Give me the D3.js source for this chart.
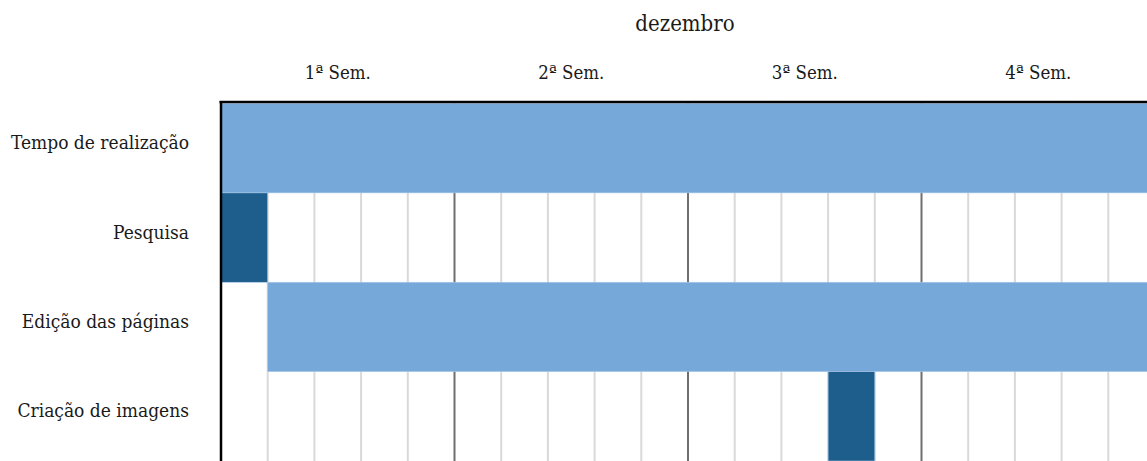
<!DOCTYPE html>
<html>
<head>
<meta charset="utf-8">
<script src="https://cdn.jsdelivr.net/npm/d3@7"></script>
<style>
  body { margin: 0; background: #fff; }
  text { font-family: "DejaVu Serif Condensed", "DejaVu Serif", serif; font-stretch: condensed; fill: #1a1a1a; }
</style>
</head>
<body>
<div id="gantt"></div>
<script>
// chart data
const month = "dezembro";
const weeks = ["1ª Sem.", "2ª Sem.", "3ª Sem.", "4ª Sem."];
const days = d3.range(1, 21).map(String);          // 5 working days per week
const tasks = ["Tempo de realização", "Pesquisa", "Edição das páginas", "Criação de imagens"];
const taskStart = [1, 1, 2, 14];                    // first day (1-based)
const taskEnd = [20, 1, 20, 14];                    // last day (inclusive)
const taskType = ["longo", "curto", "longo", "curto"];

const width = 1147, height = 461;
const gLeft = 221, gRight = 1155, gTop = 103.5, gBottom = 461;

const color = d3.scaleOrdinal()
    .domain(["longo", "curto"])
    .range(["#76a9d9", "#1e5e8c"]);

const x = d3.scaleBand().domain(days).range([gLeft, gRight]).padding(0);
const xWeek = d3.scaleBand().domain(weeks).range([gLeft, gRight]).padding(0);
const y = d3.scaleBand().domain(tasks).range([gTop, gBottom]).padding(0);

const svg = d3.select("#gantt")
    .append("svg")
    .attr("width", width)
    .attr("height", height);

// headers
svg.append("text")
    .attr("x", (gLeft + gRight) / 2 - 3)
    .attr("y", 31)
    .attr("text-anchor", "middle")
    .attr("font-size", "22px")
    .text(month);

svg.append("g")
    .selectAll("text")
    .data(weeks)
    .enter().append("text")
    .attr("x", d => xWeek(d) + xWeek.bandwidth() / 2)
    .attr("y", 79)
    .attr("text-anchor", "middle")
    .attr("font-size", "18.5px")
    .text(d => d);

// row labels
svg.append("g")
    .selectAll("text")
    .data(tasks)
    .enter().append("text")
    .attr("x", 189)
    .attr("y", d => y(d) + y.bandwidth() / 2 + 1)
    .attr("text-anchor", "end")
    .attr("font-size", "19px")
    .text(d => d);

// day grid
svg.append("g")
    .selectAll("line")
    .data(days.slice(1))
    .enter().append("line")
    .attr("x1", d => x(d))
    .attr("x2", d => x(d))
    .attr("y1", gTop)
    .attr("y2", height)
    .attr("stroke", (d, i) => (i + 1) % 5 === 0 ? "#6f6f6f" : "#d9d9d9")
    .attr("stroke-width", 2);

// bars
svg.append("g")
    .selectAll("rect")
    .data(tasks)
    .enter().append("rect")
    .attr("x", (d, i) => x(String(taskStart[i])))
    .attr("y", d => y(d))
    .attr("width", (d, i) => x(String(taskEnd[i])) + x.bandwidth() - x(String(taskStart[i])))
    .attr("height", y.bandwidth())
    .attr("fill", (d, i) => color(taskType[i]))
    .attr("stroke", "#a8c9ea")
    .attr("stroke-width", 0.6);

// frame
svg.append("line")
    .attr("x1", gLeft - 1.5).attr("x2", width)
    .attr("y1", 102).attr("y2", 102)
    .attr("stroke", "#000").attr("stroke-width", 2.5);
svg.append("line")
    .attr("x1", gLeft).attr("x2", gLeft)
    .attr("y1", 101).attr("y2", height)
    .attr("stroke", "#000").attr("stroke-width", 2.5);
</script>
</body>
</html>
